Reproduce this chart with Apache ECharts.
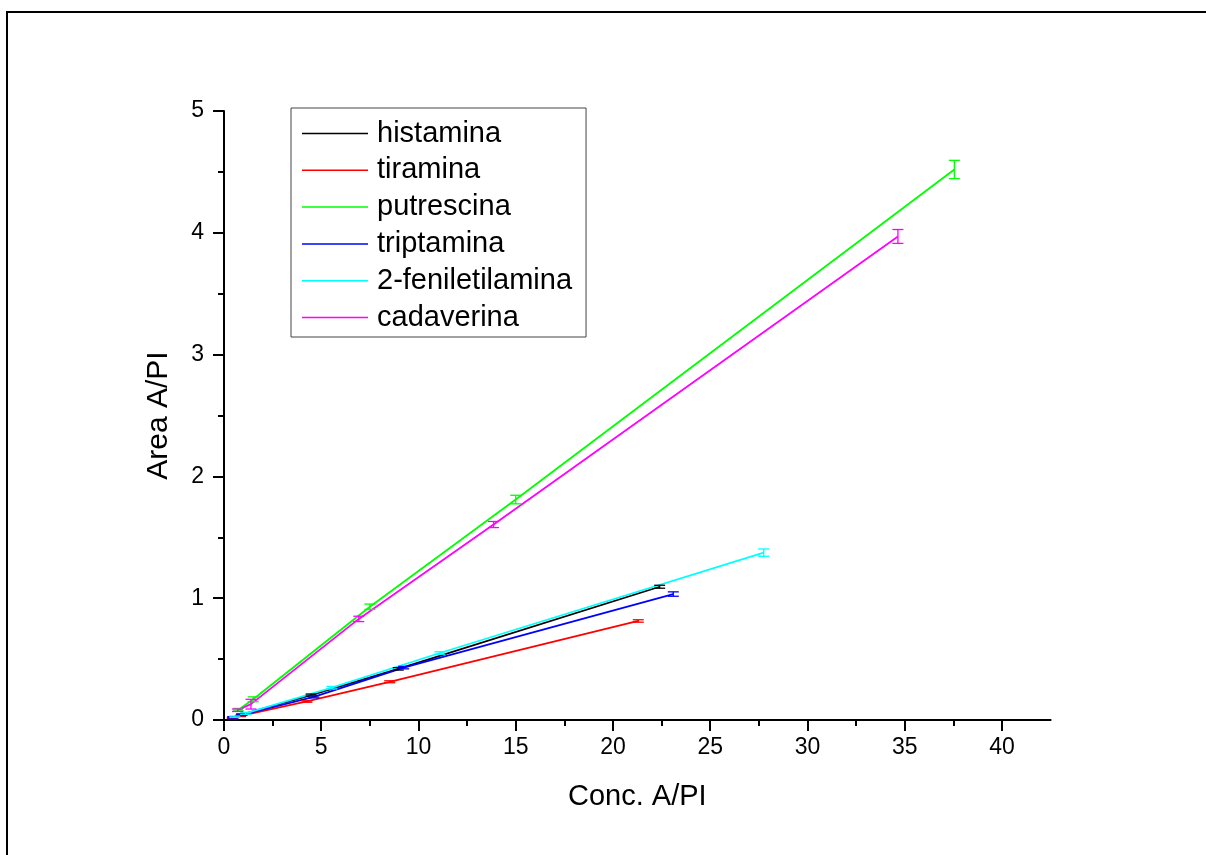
<!DOCTYPE html>
<html>
<head>
<meta charset="utf-8">
<script src="https://cdn.jsdelivr.net/npm/echarts@6/dist/echarts.min.js"></script>
<style>
  html, body { margin: 0; padding: 0; background: #ffffff; }
  #chart { width: 1206px; height: 855px; }
</style>
</head>
<body>
<div id="chart"></div>
<script>
// Calibration curves: area ratio vs. concentration ratio, each point [conc, area, sd]
const seriesNames = ['histamina', 'tiramina', 'putrescina', 'triptamina', '2-feniletilamina', 'cadaverina'];
const seriesColors = ['#000000', '#ff0000', '#00ff00', '#0000ff', '#00ffff', '#ff00ff'];

const histamina = [[0.448, 0.022, 0.005], [0.896, 0.044, 0.005], [4.48, 0.205, 0.008], [8.96, 0.420, 0.010], [22.40, 1.094, 0.012]];
const tiramina = [[0.426, 0.016, 0.004], [0.852, 0.033, 0.005], [4.26, 0.152, 0.006], [8.52, 0.314, 0.008], [21.30, 0.813, 0.010]];
const putrescina = [[0.75, 0.085, 0.010], [1.50, 0.170, 0.020], [7.50, 0.930, 0.022], [15.00, 1.810, 0.035], [37.55, 4.520, 0.075]];
const triptamina = [[0.462, 0.021, 0.005], [0.924, 0.042, 0.005], [4.62, 0.190, 0.008], [9.24, 0.430, 0.010], [23.10, 1.034, 0.018]];
const feniletilamina = [[0.555, 0.027, 0.005], [1.11, 0.055, 0.008], [5.55, 0.265, 0.010], [11.10, 0.550, 0.010], [27.75, 1.374, 0.030]];
const cadaverina = [[0.693, 0.080, 0.010], [1.386, 0.130, 0.040], [6.93, 0.830, 0.022], [13.86, 1.605, 0.025], [34.65, 3.970, 0.057]];

const seriesData = [histamina, tiramina, putrescina, triptamina, feniletilamina, cadaverina];

const xMajorTicks = [0, 5, 10, 15, 20, 25, 30, 35, 40];
const xMinorTicks = [2.5, 7.5, 12.5, 17.5, 22.5, 27.5, 32.5, 37.5];

const FONT = '"Liberation Sans", Arial, sans-serif';

// vertical error bar with caps
function errorBar(params, api) {
  const x = api.value(0), y = api.value(1), e = api.value(2);
  const top = api.coord([x, y + e]);
  const bot = api.coord([x, y - e]);
  const hw = 5.5;
  const style = { stroke: api.visual('color'), lineWidth: 1.3 };
  return {
    type: 'group',
    children: [
      { type: 'line', shape: { x1: top[0], y1: top[1], x2: bot[0], y2: bot[1] }, style: style },
      { type: 'line', shape: { x1: top[0] - hw, y1: top[1], x2: top[0] + hw, y2: top[1] }, style: style },
      { type: 'line', shape: { x1: bot[0] - hw, y1: bot[1], x2: bot[0] + hw, y2: bot[1] }, style: style }
    ]
  };
}

const series = [];
seriesNames.forEach(function (name, i) {
  series.push({
    name: name,
    type: 'line',
    xAxisIndex: 0,
    yAxisIndex: 0,
    data: seriesData[i].map(function (p) { return [p[0], p[1]]; }),
    symbol: 'none',
    color: seriesColors[i],
    lineStyle: { width: 1.8, color: seriesColors[i] },
    itemStyle: { color: seriesColors[i], borderWidth: 0 },
    animation: false,
    z: 3
  });
  series.push({
    name: name,
    type: 'custom',
    xAxisIndex: 0,
    yAxisIndex: 0,
    data: seriesData[i],
    encode: { x: 0, y: 1 },
    renderItem: errorBar,
    color: seriesColors[i],
    itemStyle: { color: seriesColors[i] },
    animation: false,
    z: 4
  });
});

const legendItems = seriesNames.map(function (name, i) {
  return { name: name, itemStyle: { color: seriesColors[i], borderWidth: 0, opacity: 1 } };
});

const chart = echarts.init(document.getElementById('chart'), null, { renderer: 'canvas' });

chart.setOption({
  backgroundColor: '#ffffff',
  animation: false,
  graphic: [{
    type: 'rect',
    silent: true,
    shape: { x: 7, y: 12, width: 1240, height: 900 },
    style: { fill: 'none', stroke: '#000000', lineWidth: 2 }
  }],
  grid: { left: 224, top: 111, width: 826.6, height: 609, containLabel: false },
  legend: {
    orient: 'vertical',
    left: 291,
    top: 108,
    padding: [11, 14, 5, 11],
    borderColor: '#444444',
    borderWidth: 1,
    itemWidth: 66,
    itemHeight: 24,
    itemGap: 7.8,
    selectedMode: false,
    icon: 'path://M0,0M0,11.25H66V12.75H0ZM66,24',
    textStyle: { fontFamily: FONT, fontSize: 29, color: '#000000', padding: [0, 0, 0, 4] },
    data: legendItems
  },
  xAxis: [{
    type: 'value',
    min: 0,
    max: 42.5,
    position: 'bottom',
    name: 'Conc. A/PI',
    nameLocation: 'middle',
    nameGap: 62,
    nameTextStyle: { fontFamily: FONT, fontSize: 29, color: '#000000' },
    axisLine: { show: true, onZero: false, lineStyle: { color: '#000000', width: 2 } },
    axisTick: { show: true, length: 11, customValues: xMajorTicks, lineStyle: { color: '#000000', width: 2 } },
    axisLabel: { show: true, customValues: xMajorTicks, margin: 16, fontFamily: FONT, fontSize: 23, color: '#000000' },
    splitLine: { show: false },
    minorTick: { show: false }
  }, {
    type: 'value',
    min: 0,
    max: 42.5,
    position: 'bottom',
    axisLine: { show: false },
    axisTick: { show: true, length: 6, customValues: xMinorTicks, lineStyle: { color: '#000000', width: 2 } },
    axisLabel: { show: false },
    splitLine: { show: false }
  }],
  yAxis: [{
    type: 'value',
    min: 0,
    max: 5,
    interval: 1,
    name: 'Area A/PI',
    nameLocation: 'middle',
    nameGap: 50,
    nameTextStyle: { fontFamily: FONT, fontSize: 30, color: '#000000' },
    axisLine: { show: true, onZero: false, lineStyle: { color: '#000000', width: 2 } },
    axisTick: { show: true, length: 11, lineStyle: { color: '#000000', width: 2 } },
    minorTick: { show: true, splitNumber: 2, length: 6, lineStyle: { color: '#000000', width: 2 } },
    axisLabel: { margin: 20, fontFamily: FONT, fontSize: 23, color: '#000000' },
    splitLine: { show: false },
    minorSplitLine: { show: false }
  }],
  series: series
});
</script>
</body>
</html>
